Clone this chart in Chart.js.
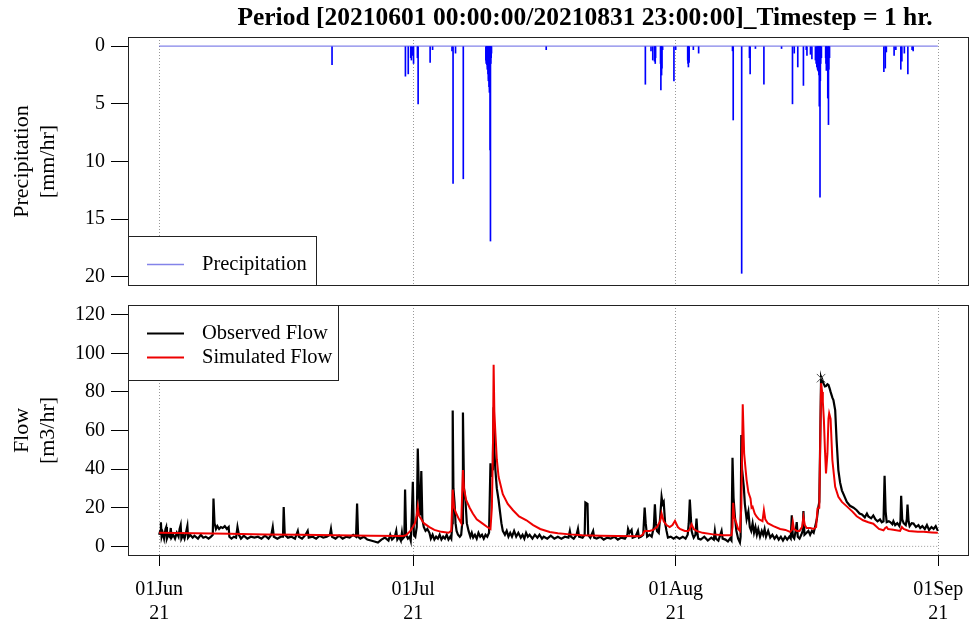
<!DOCTYPE html>
<html>
<head>
<meta charset="utf-8">
<title>Precipitation and flow, Jun-Aug 2021</title>
<script src="https://cdn.jsdelivr.net/npm/chart.js@4.4.0/dist/chart.umd.min.js"></script>
<style>
  html, body { margin: 0; padding: 0; background: #fff; }
  #wrap { position: relative; width: 971px; height: 624px; }
  #rain { position: absolute; left: 0; top: 0; }
  #flow { position: absolute; left: 0; top: 300px; }
</style>
</head>
<body>
<div id="wrap">
  <canvas id="rain" width="971" height="300"></canvas>
  <canvas id="flow" width="971" height="324"></canvas>
</div>
<script>
/* Hourly series, x = hours since 2021-06-01 00:00 (last step 2021-08-31 23:00) */

const titleText = 'Period [20210601 00:00:00/20210831 23:00:00]_Timestep = 1 hr.';
const lastHour = 2207;
const monthTicks = [0, 720, 1464, 2208];
const monthLabels = [['01Jun', '21'], ['01Jul', '21'], ['01Aug', '21'], ['01Sep', '21']];
const rainTicks = [0, 5, 10, 15, 20];
const flowTicks = [0, 20, 40, 60, 80, 100, 120];

// precipitation [mm/hr] — only the non-zero hours
const rainHour = [
  490, 698, 706, 713, 715, 719, 721, 732, 734, 768, 775,
  830, 833, 840, 862,
  926, 927, 928, 929, 930, 931, 932, 933, 934, 935, 936, 937, 938, 939, 940, 941, 942,
  1097, 1378, 1394, 1399, 1404, 1405, 1406, 1407,
  1421, 1422, 1423, 1424, 1425, 1427, 1459, 1464,
  1498, 1499, 1500, 1501, 1502, 1514, 1529,
  1625, 1627, 1651, 1673, 1675, 1690, 1714, 1764,
  1795, 1800, 1810, 1826, 1834, 1836, 1846, 1850,
  1860, 1862, 1864, 1866, 1867, 1868, 1869, 1870, 1871, 1872, 1873, 1874, 1875, 1877,
  1889, 1890, 1891, 1893, 1895, 1897, 1898, 1900,
  2054, 2058, 2061, 2083, 2088, 2102, 2105, 2112, 2122, 2134, 2137
];
const rainMm = [
  1.6, 2.6, 2.4, 1.0, 1.2, 0.8, 1.5, 1.0, 5.0, 1.4, 0.3,
  0.4, 11.9, 0.6, 11.5,
  1.2, 1.5, 1.4, 1.6, 2.0, 1.8, 2.4, 3.0, 2.8, 3.5, 4.0, 3.7, 9.0, 16.9, 1.5, 1.0, 0.6,
  0.3, 3.3, 0.4, 1.2, 1.3, 0.8, 1.5, 1.0,
  1.5, 3.8, 2.0, 2.5, 1.9, 0.3, 3.0, 0.3,
  1.2, 1.5, 1.8, 1.0, 1.4, 0.3, 0.6,
  0.4, 6.4, 19.7, 1.0, 2.4, 0.2, 3.3, 0.2,
  5.0, 0.6, 1.8, 3.4, 0.3, 0.8, 0.7, 1.1,
  1.2, 1.5, 1.8, 2.0, 2.1, 1.6, 2.2, 2.5, 5.2, 2.0, 13.1, 3.0, 1.5, 1.0,
  1.0, 1.5, 2.1, 1.8, 4.5, 6.8, 2.0, 1.0,
  2.2, 1.9, 0.5, 0.8, 0.3, 2.0, 1.3, 0.6, 2.4, 0.3, 0.4
];

// observed flow [m3/hr]
const obsHour = [
  0, 3, 5, 7, 10, 14, 18, 20, 22, 26, 30, 33, 35, 40, 45, 50, 55, 58, 61, 63, 68, 72, 76, 80, 82, 88, 95,
  100, 110, 118, 125, 132, 140, 147, 152, 154, 157, 161, 165, 170, 175, 180, 186, 192, 197, 199,
  205, 212, 218, 222, 226, 232, 240, 250, 260, 270, 280, 290, 300, 310, 318, 322, 325, 335, 345, 351, 353, 356,
  365, 375, 385, 393, 396, 405, 415, 421, 424, 435, 445, 455, 465, 475, 484, 487, 490, 500, 510, 520, 530,
  540, 550, 558, 561, 564, 570, 580, 590, 600, 610, 620, 630, 640, 650, 655, 660, 668, 672, 675, 680, 685,
  688, 690, 695, 697, 700, 705, 710, 713, 716, 719, 722, 726, 730, 733, 736, 740, 743, 746, 750, 755, 760,
  766, 770, 775, 780, 785, 790, 795, 800, 805, 810, 815, 820, 825, 828, 831, 832, 834, 837, 840, 843, 847,
  852, 856, 859, 861, 864, 868, 872, 877, 882, 886, 890, 895, 900, 905, 910, 915, 920, 925, 930, 935, 939,
  941, 944, 946, 948, 950, 953, 957, 962, 966, 970, 974, 980, 985, 990, 995, 1000, 1006, 1012, 1018, 1025,
  1030, 1035, 1040, 1045, 1050, 1058, 1065, 1072, 1078, 1085, 1090, 1100, 1110, 1120, 1130, 1140, 1150,
  1160, 1164, 1167, 1175, 1183, 1187, 1190, 1200, 1206, 1208, 1214, 1216, 1222, 1230, 1233, 1240, 1250,
  1260, 1270, 1280, 1290, 1300, 1310, 1320, 1327, 1329, 1333, 1339, 1342, 1350, 1357, 1360, 1366, 1372,
  1376, 1379, 1383, 1390, 1396, 1402, 1405, 1408, 1411, 1416, 1420, 1424, 1427, 1430, 1434, 1438, 1442,
  1450, 1458, 1466, 1475, 1484, 1492, 1498, 1501, 1504, 1507, 1509, 1512, 1515, 1520, 1523, 1526, 1528,
  1535, 1545, 1555, 1565, 1572, 1575, 1578, 1585, 1594, 1597, 1605, 1612, 1618, 1622, 1625, 1628, 1632,
  1636, 1641, 1646, 1648, 1650, 1652, 1657, 1660, 1665, 1670, 1674, 1678, 1682, 1686, 1690, 1694, 1698,
  1703, 1708, 1712, 1716, 1720, 1726, 1732, 1738, 1744, 1750, 1756, 1762, 1768, 1774, 1780, 1786, 1790,
  1793, 1796, 1800, 1804, 1807, 1810, 1815, 1820, 1824, 1826, 1829, 1835, 1840, 1845, 1850, 1855, 1859,
  1864, 1868, 1871, 1874, 1876, 1879, 1881, 1884, 1887, 1890, 1894, 1897, 1900, 1903, 1908, 1911, 1916,
  1920, 1925, 1930, 1935, 1942, 1949, 1958, 1968, 1977, 1985, 1992, 2000, 2006, 2010, 2018, 2024, 2030,
  2036, 2043, 2048, 2053, 2056, 2059, 2062, 2068, 2072, 2078, 2081, 2086, 2092, 2098, 2101, 2103, 2106,
  2110, 2116, 2119, 2121, 2124, 2127, 2133, 2138, 2145, 2152, 2157, 2163, 2170, 2176, 2182, 2189, 2195,
  2201, 2207
];
const obsFlow = [
  6, 8, 12.5, 5, 7, 4, 9, 10, 4, 6, 5, 9.5, 4.5, 6, 4, 7, 5, 9, 11, 4, 6, 4, 7, 10.5, 4.5, 6, 4.5,
  5.5, 4, 6, 4.5, 5, 4, 5, 6, 24.8, 12, 9, 10.5, 9, 10, 9.5, 10.5, 9, 10, 5,
  4, 5, 4.5, 10, 6, 4, 5.5, 4, 5, 4.5, 5, 4, 5.5, 4, 6, 10, 5, 4, 5, 5, 20.4, 6,
  4.5, 5, 4, 8, 5, 4, 6, 8, 4.5, 5, 4, 5.5, 4.5, 5, 6, 9, 5, 4, 5.5, 4, 5,
  4.5, 6, 5, 22.2, 5, 4, 5, 3.5, 3, 2.5, 2, 3.5, 4.5, 3, 6, 3.5, 5, 8, 3.5, 5, 3,
  7, 4, 5, 29.4, 6, 4, 5, 3, 15, 33.4, 6, 5, 10, 50.7, 30, 16, 39, 14, 10, 8, 9,
  7, 4, 6, 3.5, 5, 4, 6, 3.5, 5, 4, 6, 3.5, 5, 4, 12, 70.3, 30, 23, 12, 8, 6,
  5, 6, 12, 69.3, 30, 24, 12, 8, 5, 7, 4.5, 6, 4, 7, 5, 6, 4, 6, 5, 7, 43,
  36, 40, 48, 72, 50, 39.5, 30, 24, 18, 12, 8, 6, 8, 5, 7, 5, 8, 5, 7, 4.5,
  6, 4, 7, 5, 6, 4, 6, 4.5, 6, 4, 5, 4, 5.5, 4, 5, 4, 5,
  4.5, 8, 5, 4, 6, 9, 5, 4.5, 6, 22.7, 22, 6, 4.5, 8, 4.5, 4, 5,
  3.5, 4.5, 4, 5, 3.5, 4.5, 4, 6, 9, 7, 8.5, 4.5, 5, 8, 4.5, 5, 6,
  20.1, 12, 5, 6, 5, 10, 21.8, 12, 8, 7, 15, 25.6, 22, 23, 12, 8, 4.5,
  5, 4, 5, 4, 5, 4, 6, 12, 24.2, 15, 8, 6, 4.5, 6, 14.4, 6, 4,
  3.5, 5, 3, 4.5, 3.5, 8, 4, 3, 8, 4, 3.5, 2.5, 4, 3, 45.9, 25, 15,
  8, 4, 2, 5, 57.7, 40, 30.8, 22, 14, 18, 10, 8, 12, 7, 10, 6, 9,
  5, 8, 6, 9, 5, 8, 4.5, 6, 4, 5.5, 3.5, 5, 3, 5, 3.5, 5, 4,
  16.1, 5, 4, 8, 12.6, 5, 4, 6, 8, 18.3, 6, 7, 8, 6, 8, 7, 10,
  14, 20, 23, 60, 87.1, 85, 85.5, 84, 82.8, 83, 84, 83.6, 82, 80, 77, 75.8, 70.6,
  55, 39.5, 33, 29, 26, 23, 21, 20, 18.7, 17, 16.5, 15, 17, 15.5, 14.5, 16, 14,
  13, 14, 12.5, 13, 36.5, 18, 12.5, 13, 12.6, 11.5, 13, 11, 12, 10.5, 13, 26.2, 14,
  12, 11, 14, 21.6, 13, 10.5, 12, 11.8, 10, 11, 9.5, 10.5, 9, 11, 8.5, 10, 9,
  10.5, 8
];

// simulated flow [m3/hr]
const simHour = [
  0, 100, 200, 300, 400, 500, 600, 690, 700, 712, 719, 725, 730, 733, 736, 743, 750, 766, 780, 800, 820,
  828, 832, 836, 842, 850, 856, 861, 864, 870, 880, 889, 900, 915, 930, 939, 943, 946, 948, 950, 953,
  957, 962, 974, 988, 1003, 1020, 1041, 1060, 1080, 1107, 1130, 1164, 1200, 1250, 1300, 1362, 1370,
  1376, 1390, 1400, 1411, 1420, 1424, 1430, 1438, 1447, 1455, 1462, 1470, 1476, 1490, 1500, 1504, 1509,
  1515, 1523, 1540, 1570, 1600, 1622, 1625, 1627, 1630, 1635, 1641, 1646, 1650, 1654, 1658, 1662, 1665,
  1670, 1676, 1679, 1682, 1688, 1693, 1700, 1710, 1714, 1718, 1725, 1741, 1760, 1775, 1788, 1793, 1796,
  1799, 1807, 1815, 1822, 1826, 1830, 1835, 1845, 1855, 1862, 1866, 1871, 1874, 1876, 1879, 1881, 1884,
  1887, 1890, 1894, 1897, 1899, 1903, 1908, 1916, 1925, 1935, 1949, 1965, 1977, 1995, 2010, 2024, 2040,
  2053, 2058, 2062, 2066, 2072, 2085, 2100, 2105, 2110, 2125, 2150, 2166, 2190, 2207
];
const simFlow = [
  7, 6.8, 6.5, 6.2, 6, 5.8, 5.5, 5.3, 5.8, 8, 10, 12, 16, 20.4, 16, 14, 12, 10, 8.5, 7.5, 7,
  8, 29.4, 20, 17, 14, 12, 39.5, 30, 24, 20, 17, 14, 12, 10, 9, 20, 50, 94, 70, 58.5,
  45, 36, 27, 22, 18.7, 15.5, 13.5, 11, 9, 7.4, 6.8, 6.2, 5.8, 5.5, 5.3, 5.2, 6,
  8, 8, 8.5, 10, 13, 17, 13, 11, 10, 11, 13.2, 10, 9, 8, 8, 9, 11.4,
  9, 8, 7, 6.2, 5.8, 5.7, 10, 22.6, 15, 12.6, 9, 8, 20, 73.6, 48.1, 40, 34.3,
  28, 24.8, 20, 20.5, 17, 15.5, 14, 13, 18.7, 14, 12, 10.5, 9, 8.5, 7.5, 8.5, 12.6,
  9, 8, 8, 10, 15.2, 11, 9.5, 9.5, 9, 10, 19.6, 20, 60, 84.5, 80, 75, 65.5,
  50, 37.8, 48, 66, 68.9, 66, 44.7, 30.8, 25.6, 23, 20.7, 18, 15.6, 13.5, 12.5, 11.7, 9,
  8.3, 9.5, 10, 9, 8.8, 8.5, 8, 10, 9, 8, 7.5, 7.5, 7.2, 7
];

const peakHour = [1876];
const peakFlow = [87.1];

const rainName = 'Precipitation';
const obsName = 'Observed Flow';
const simName = 'Simulated Flow';

// ── shared look ────────────────────────────────────────────

const SERIF = '"Liberation Serif", "Times New Roman", serif';
Chart.defaults.font.family = SERIF;
Chart.defaults.font.size = 20;
Chart.defaults.color = '#000';

const xMin = -0.04 * lastHour;
const xMax = lastHour * 1.04;

function toPoints(xs, ys) {
  return xs.map(function (x, i) { return { x: x, y: ys[i] }; });
}

function fixTicks(values) {
  return function (scale) {
    scale.ticks = values.map(function (v) { return { value: v }; });
  };
}

// keep the plot box where it is: no extra room for edge labels
function yFit(s) {
  s.width = 128;
  s.paddingTop = 0;
  s.paddingBottom = 0;
}

function xFit(height) {
  return function (s) {
    s.height = height;
    s.paddingLeft = 0;
    s.paddingRight = 0;
  };
}

// frame, boxed legend and (optionally) the page title
const panelDecor = {
  id: 'panelDecor',
  afterDatasetsDraw(chart, args, opts) {
    const ctx = chart.ctx;
    const a = chart.chartArea;
    ctx.save();
    ctx.strokeStyle = '#222';
    ctx.lineWidth = 1;
    ctx.strokeRect(Math.round(a.left) + 0.5, Math.round(a.top) + 0.5,
                   Math.round(a.width) - 1, Math.round(a.height) - 1);

    const lg = opts.legend;
    if (lg) {
      const x0 = Math.round(a.left);
      const y0 = lg.corner === 'bottom' ? Math.round(a.bottom) - lg.height : Math.round(a.top);
      ctx.fillStyle = '#fff';
      ctx.fillRect(x0, y0, lg.width, lg.height);
      ctx.strokeStyle = '#222';
      ctx.strokeRect(x0 + 0.5, y0 + 0.5, lg.width - 1, lg.height - 1);
      ctx.font = '20.5px ' + SERIF;
      ctx.textBaseline = 'middle';
      ctx.textAlign = 'left';
      lg.items.forEach(function (it, i) {
        const y = y0 + lg.firstRow + i * lg.rowStep;
        ctx.strokeStyle = it.color;
        ctx.lineWidth = it.lineWidth;
        ctx.beginPath();
        ctx.moveTo(x0 + 19, y);
        ctx.lineTo(x0 + 56, y);
        ctx.stroke();
        ctx.fillStyle = '#000';
        ctx.fillText(it.text, x0 + 74, y);
      });
    }

    if (opts.title) {
      ctx.font = 'bold 25.5px ' + SERIF;
      ctx.fillStyle = '#000';
      ctx.textAlign = 'center';
      ctx.textBaseline = 'middle';
      ctx.fillText(opts.title.text, opts.title.x, opts.title.y);
    }
    ctx.restore();
  }
};

const yGrid = { drawOnChartArea: false, tickColor: '#000', tickLength: 17 };
const axisTitleFont = { size: 22 };

// ── precipitation panel ───────────────────────────────────

new Chart(document.getElementById('rain'), {
  type: 'bar',
  data: {
    datasets: [
      {
        type: 'line',
        label: 'zero',
        data: toPoints([0, lastHour], [0, 0]),
        borderColor: 'rgba(90,90,225,0.75)',
        borderWidth: 1.3,
        pointRadius: 0,
        order: 1,
      },
      {
        type: 'bar',
        label: rainName,
        data: toPoints(rainHour, rainMm),
        backgroundColor: '#0000ff',
        barThickness: 1,
        grouped: false,
        order: 0,
      },
    ],
  },
  options: {
    responsive: false,
    animation: false,
    events: [],
    layout: { autoPadding: false, padding: { top: 37, bottom: 14, right: 2, left: 0 } },
    plugins: {
      legend: { display: false },
      tooltip: { enabled: false },
      panelDecor: {
        legend: {
          corner: 'bottom', width: 189, height: 50, firstRow: 28.5, rowStep: 24,
          items: [{ text: rainName, color: 'rgba(90,90,225,0.75)', lineWidth: 1.3 }],
        },
        title: { text: titleText, x: 585, y: 18 },
      },
    },
    scales: {
      x: {
        type: 'linear', min: xMin, max: xMax, offset: false,
        afterBuildTicks: fixTicks(monthTicks),
        afterFit: xFit(0),
        ticks: { display: false },
        grid: { color: '#999', drawTicks: false, offset: false },
        border: { display: false, dash: [1, 2] },
      },
      y: {
        reverse: true, min: -0.8, max: 20.8,
        afterBuildTicks: fixTicks(rainTicks),
        afterFit: yFit,
        ticks: { padding: 6, callback: function (v) { return String(v); } },
        grid: yGrid,
        border: { display: false },
        title: { display: true, text: [rainName, '[mm/hr]'], font: axisTitleFont, padding: { top: 9, bottom: 0 } },
      },
    },
  },
  plugins: [panelDecor],
});

// ── flow panel ────────────────────────────────────────────

new Chart(document.getElementById('flow'), {
  type: 'line',
  data: {
    datasets: [
      {
        label: 'peak',
        type: 'scatter',
        data: toPoints(peakHour, peakFlow),
        pointStyle: 'crossRot',
        pointRadius: 6,
        borderColor: '#555',
        borderWidth: 1,
        order: 0,
      },
      {
        label: simName,
        data: toPoints(simHour, simFlow),
        borderColor: '#ee0000',
        borderWidth: 2,
        pointRadius: 0,
        tension: 0,
        order: 1,
      },
      {
        label: obsName,
        data: toPoints(obsHour, obsFlow),
        borderColor: '#000',
        borderWidth: 2.2,
        pointRadius: 0,
        tension: 0,
        order: 2,
      },
      {
        label: 'zero',
        data: toPoints([0, lastHour], [0, 0]),
        borderColor: '#999',
        borderWidth: 1,
        borderDash: [1, 2],
        pointRadius: 0,
        order: 3,
      },
    ],
  },
  options: {
    responsive: false,
    animation: false,
    events: [],
    layout: { autoPadding: false, padding: { top: 5, bottom: 0, right: 2, left: 0 } },
    plugins: {
      legend: { display: false },
      tooltip: { enabled: false },
      panelDecor: {
        legend: {
          corner: 'top', width: 211, height: 76, firstRow: 28.5, rowStep: 24,
          items: [
            { text: obsName, color: '#000', lineWidth: 2 },
            { text: simName, color: '#ee0000', lineWidth: 2 },
          ],
        },
      },
    },
    scales: {
      x: {
        type: 'linear', min: xMin, max: xMax,
        afterBuildTicks: fixTicks(monthTicks),
        afterFit: xFit(68),
        ticks: {
          padding: 12, maxRotation: 0, autoSkip: false,
          callback: function (v) { return monthLabels[monthTicks.indexOf(v)]; },
        },
        grid: { color: '#999', tickColor: '#000', tickLength: 10, tickBorderDash: [] },
        border: { display: false, dash: [1, 2] },
      },
      y: {
        min: -5, max: 125,
        afterBuildTicks: fixTicks(flowTicks),
        afterFit: yFit,
        ticks: { padding: 6, callback: function (v) { return String(v); } },
        grid: yGrid,
        border: { display: false },
        title: { display: true, text: ['Flow', '[m3/hr]'], font: axisTitleFont, padding: { top: 9, bottom: 0 } },
      },
    },
  },
  plugins: [panelDecor],
});
</script>
</body>
</html>
